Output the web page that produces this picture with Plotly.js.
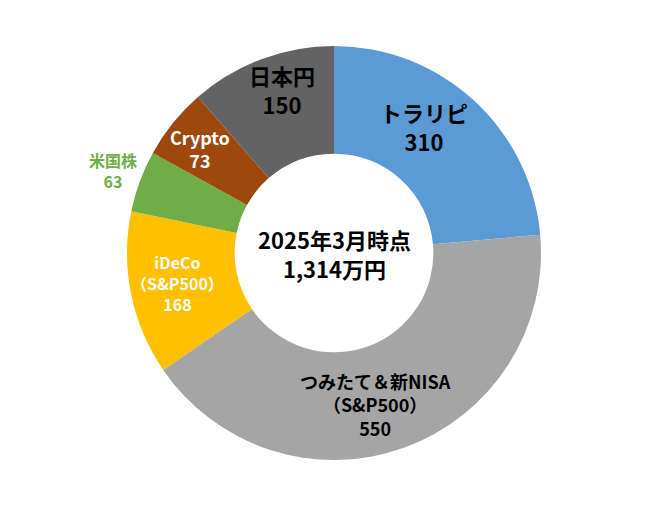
<!DOCTYPE html>
<html>
<head>
<meta charset="utf-8">
<script src="https://cdn.plot.ly/plotly-3.0.1.min.js"></script>
<style>
  html, body { margin: 0; padding: 0; background: #ffffff; }
  #grafico { width: 668px; height: 507px; }
</style>
</head>
<body>
<div id="grafico"></div>
<script>
// Datos del gráfico (万円)
const categorias = ['トラリピ', 'つみたて＆新NISA<br>（S&P500）', 'iDeCo<br>（S&P500）', '米国株', 'Crypto', '日本円'];
const valores = [310, 550, 168, 63, 73, 150];
const textoCentro = '2025年3月時点<br>1,314万円';

// Estilo
const colores = ['#5B9BD5', '#A5A5A5', '#FFC000', '#70AD47', '#9E480E', '#636363'];
const coloresTexto = ['#000000', '#000000', '#ffffff', '#70AD47', '#ffffff', '#000000'];
const tamanosTexto = [22, 18, 16, 16, 18, 22];
// posición de etiquetas: radio (px) y desplazamiento angular (grados) respecto al centro de cada porción
const radioEtiqueta = [155, 157, 159, 236, 170, 172];
const desvioAngulo = [-7, 4.5, 0.5, 0.3, -1, 3];

const fuente = '"Noto Sans CJK JP", "DejaVu Sans", sans-serif';
const ANCHO = 668, ALTO = 507;
const cx = 334, cy = 253;   // centro del anillo en px

const traza = {
    type: 'pie',
    labels: categorias,
    values: valores,
    hole: 0.48,
    sort: false,
    direction: 'clockwise',
    rotation: 0,
    marker: { colors: colores, line: { width: 0 } },
    textinfo: 'none',
    domain: { x: [0.190, 0.810], y: [0.0927, 0.9093] },
    showlegend: false,
    hoverinfo: 'label+value'
};

// Etiquetas: ángulo medio de cada porción calculado a partir de los valores
const total = valores.reduce((a, b) => a + b, 0);
let acumulado = 0;
const anotaciones = valores.map((v, i) => {
    const medio = (acumulado + v / 2) / total * 360 + desvioAngulo[i];
    acumulado += v;
    const rad = medio * Math.PI / 180;
    const px = cx + radioEtiqueta[i] * Math.sin(rad);
    const py = cy - radioEtiqueta[i] * Math.cos(rad);
    return {
        text: '<b>' + categorias[i] + '<br>' + v + '</b>',
        x: px / ANCHO, y: 1 - py / ALTO, xref: 'paper', yref: 'paper',
        xanchor: 'center', yanchor: 'middle',
        showarrow: false,
        font: { family: fuente, size: tamanosTexto[i], color: coloresTexto[i] }
    };
});

anotaciones.push({
    text: '<b>' + textoCentro + '</b>',
    x: 0.5, y: 1 - cy / ALTO, xref: 'paper', yref: 'paper',
    xanchor: 'center', yanchor: 'middle',
    showarrow: false,
    font: { family: fuente, size: 22, color: '#000000' }
});

const layout = {
    width: ANCHO,
    height: ALTO,
    margin: { t: 0, r: 0, b: 0, l: 0 },
    paper_bgcolor: '#ffffff',
    font: { family: fuente },
    annotations: anotaciones
};

Plotly.newPlot('grafico', [traza], layout, { displayModeBar: false, staticPlot: true });
</script>
</body>
</html>
